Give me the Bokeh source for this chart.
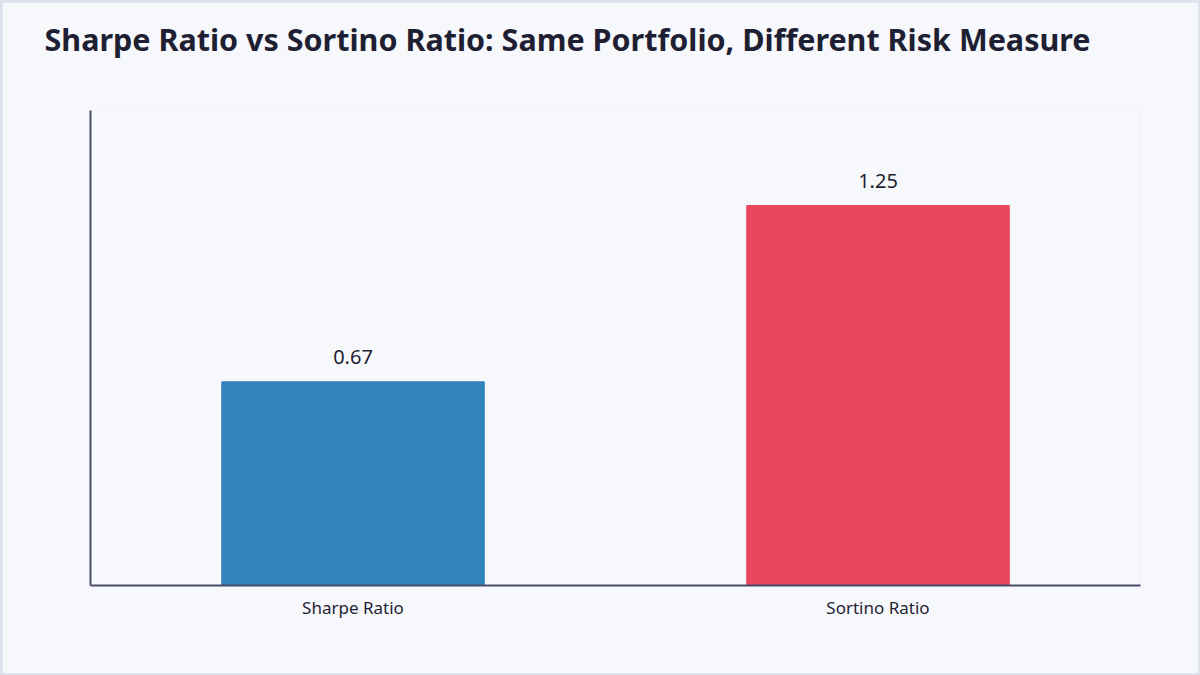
import bokeh.plotting
from bokeh.core.properties import value
from bokeh.embed import file_html
from bokeh.models import ColumnDataSource, FixedTicker, Range1d, Title
from bokeh.resources import INLINE

# Data
ratios = ["Sharpe Ratio", "Sortino Ratio"]
ratio_values = [0.67, 1.25]
ratio_labels = ["0.67", "1.25"]
bar_colors = ["#3182bd", "#e8455f"]

title_text = "Sharpe Ratio vs Sortino Ratio: Same Portfolio, Different Risk Measure"
font = "Noto Sans"
bg = "#f7f8fc"
edge = "#dde3ec"
ink = "#1f1f33"
axis_color = "#4b4a6b"

source = ColumnDataSource(
    dict(name=ratios, val=ratio_values, label=ratio_labels, color=bar_colors)
)

p = bokeh.plotting.figure(
    x_range=ratios,
    y_range=Range1d(0, max(ratio_values) * 1.25),
    width=1196,
    height=671,
    output_backend="svg",
    toolbar_location=None,
    min_border_left=88,
    min_border_right=58,
    min_border_top=0,
    min_border_bottom=88,
)
p.background_fill_color = bg
p.border_fill_color = bg
p.outline_line_color = None
p.grid.visible = False

p.title.text = title_text
p.title.text_font = font
p.title.text_font_size = "30.5px"
p.title.text_font_style = "bold"
p.title.text_color = ink
p.title.align = "left"
p.title.vertical_align = "top"
p.title.offset = -46
p.title.standoff = 30

# blank title used as a spacer between the heading and the plot area
spacer = Title(text=" ", text_font_size="1px", standoff=31)
p.add_layout(spacer, "above")

p.vbar(x="name", top="val", width=0.5, color="color", source=source)

p.text(
    x="name",
    y="val",
    text="label",
    source=source,
    text_align="center",
    text_baseline="alphabetic",
    y_offset=-25,
    text_font=value(font),
    text_font_size="20px",
    text_color=ink,
)

for ax in (p.xaxis, p.yaxis):
    ax.axis_line_color = axis_color
    ax.axis_line_width = 2
    ax.major_tick_line_color = None
    ax.minor_tick_line_color = None

p.yaxis.ticker = FixedTicker(ticks=[])
p.xaxis.major_label_text_font = font
p.xaxis.major_label_text_font_size = "17px"
p.xaxis.major_label_text_color = ink
p.xaxis.major_label_standoff = 4

html = file_html(p, INLINE)
style = "<style>body{background:%s;padding:2px !important;}</style></head>" % edge
html = html.replace("</head>", style, 1)
open("out.html", "w").write(html)
